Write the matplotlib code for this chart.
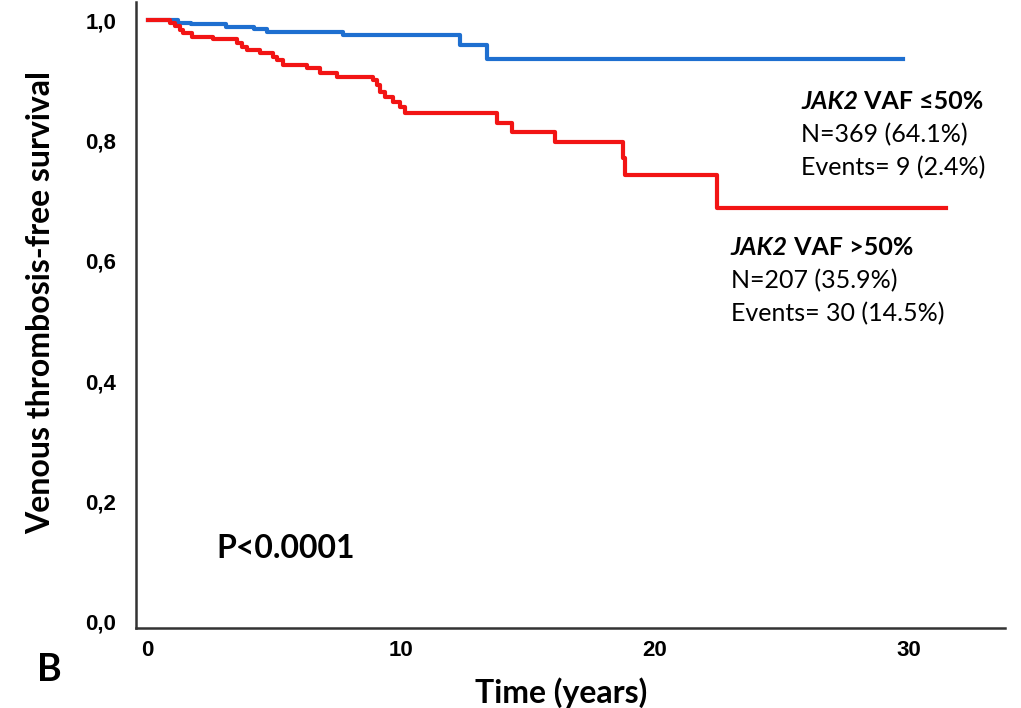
import matplotlib
matplotlib.use("Agg")
import matplotlib.pyplot as plt

plt.rcParams['font.family'] = ['Lato', 'DejaVu Sans']

# Kaplan-Meier steps (time in years, survival)
low_t = [0, 1.2, 1.7, 3.1, 4.2, 4.7, 7.7, 12.3, 13.4, 29.8]
low_s = [1.0, 0.996, 0.993, 0.989, 0.985, 0.981, 0.975, 0.958, 0.936, 0.936]

high_t = [0, 0.87, 1.07, 1.26, 1.38, 1.74, 2.57, 3.51, 3.71, 3.91, 4.42, 4.93,
          5.09, 5.33, 6.28, 6.79, 7.46, 8.88, 9.04, 9.16, 9.36, 9.67, 9.95,
          10.15, 13.78, 14.37, 16.07, 18.75, 18.83, 22.46, 31.5]
high_s = [1.0, 0.995, 0.990, 0.983, 0.978, 0.972, 0.968, 0.962, 0.956, 0.950,
          0.945, 0.939, 0.934, 0.925, 0.920, 0.912, 0.906, 0.900, 0.892, 0.881,
          0.873, 0.864, 0.856, 0.846, 0.829, 0.814, 0.797, 0.771, 0.743, 0.688,
          0.688]

yticks = [0.0, 0.2, 0.4, 0.6, 0.8, 1.0]
ytick_labels = ["0,0", "0,2", "0,4", "0,6", "0,8", "1,0"]
xticks = [0, 10, 20, 30]

fig = plt.figure(figsize=(10.21, 7.08), dpi=100)
ax = fig.add_axes([0.133, 0.113, 0.851, 0.884])

ax.step(low_t, low_s, where='post', color='#1e6fd0', lw=3)
ax.step(high_t, high_s, where='post', color='#f21414', lw=3)

ax.set_xlim(-0.47, 33.8)
ax.set_ylim(-0.01, 1.03)
tick_font = dict(fontsize=16, fontweight='bold', fontfamily=['Liberation Sans', 'DejaVu Sans'])
ax.set_yticks(yticks, labels=ytick_labels, **tick_font)
ax.set_xticks(xticks, labels=[str(v) for v in xticks], **tick_font)
ax.tick_params(axis='x', length=0, pad=9)
ax.tick_params(axis='y', length=0, pad=14)

for s in ['top', 'right']:
    ax.spines[s].set_visible(False)
for s in ['left', 'bottom']:
    ax.spines[s].set_linewidth(1.8)
    ax.spines[s].set_color('#333333')

ax.set_ylabel("Venous thrombosis-free survival", fontsize=23, fontweight='bold')
ax.yaxis.set_label_coords(-0.093, 0.52)
ax.set_xlabel("Time (years)", fontsize=23, fontweight='bold')
ax.xaxis.set_label_coords(0.49, -0.078)

fig.text(0.036, 0.053, "B", fontsize=27, fontweight='bold', va='center')

# group labels
def group_label(x, y, rest, lines):
    t = ax.text(x, y, "JAK2", fontsize=18, fontweight='bold', style='italic', va='center')
    ax.annotate(rest, xy=(1, 0), xycoords=t, va='bottom', fontsize=18, fontweight='bold')
    for i, line in enumerate(lines):
        ax.text(x, y - 0.055 * (i + 1), line, fontsize=18, va='center')

group_label(25.77, 0.865, " VAF ≤50%", ["N=369 (64.1%)", "Events= 9 (2.4%)"])
group_label(23.0, 0.623, " VAF >50%", ["N=207 (35.9%)", "Events= 30 (14.5%)"])

ax.text(2.7, 0.122, "P<0.0001", fontsize=23, fontweight='bold', va='center')

fig.savefig("out.png", dpi=100)
